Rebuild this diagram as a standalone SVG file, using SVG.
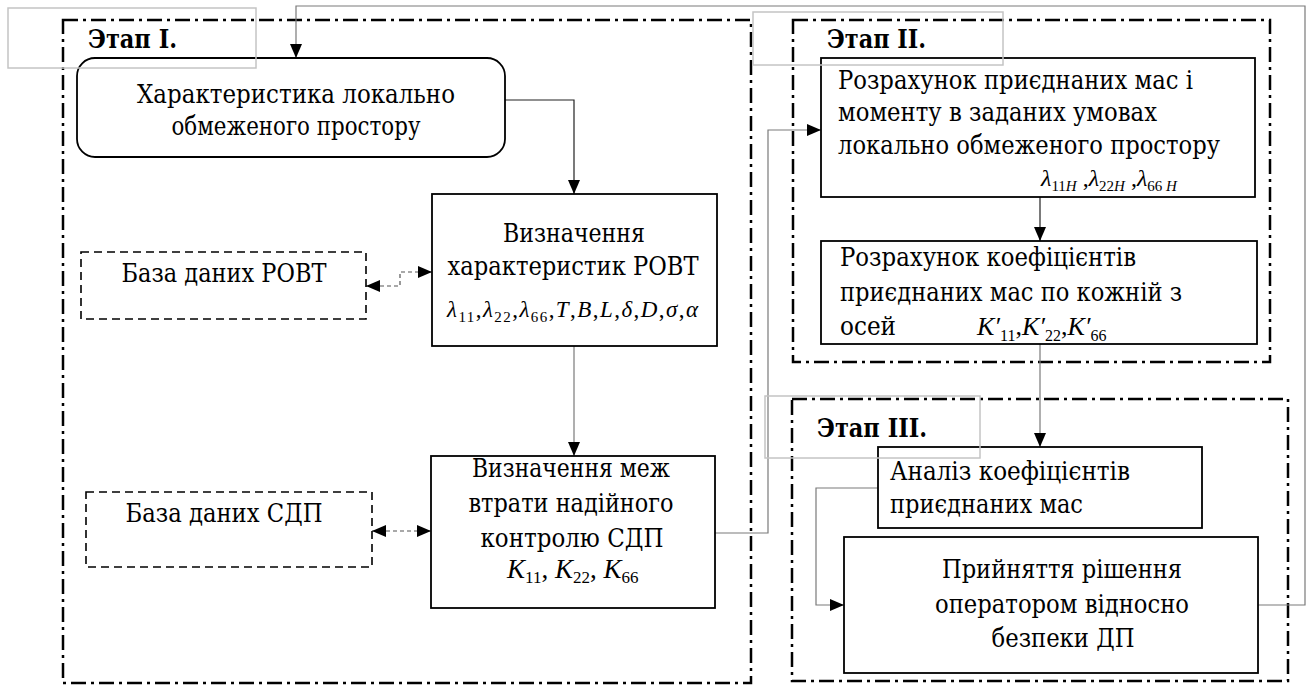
<svg xmlns="http://www.w3.org/2000/svg" width="1311" height="686" viewBox="0 0 1311 686">
  <style>
    .frame { fill: none; stroke: #000; stroke-width: 2.5; stroke-dasharray: 15 5 3 5; }
    .tag { fill: none; stroke: #c4c4c4; stroke-width: 1.5; }
    .box { fill: #fff; stroke: #000; stroke-width: 1.8; }
    .db { fill: #fff; stroke: #000; stroke-width: 1.6; stroke-dasharray: 8 5; }
    text { font-family: 'DejaVu Serif', serif; font-size: 25.5px; fill: #000; }
    .h { font-weight: bold; }
    .mid { text-anchor: middle; }
    .m { font-family: 'Liberation Serif', 'DejaVu Serif', serif; font-size: 23px; font-style: italic; }
    .s { font-size: 15px; font-style: normal; }
    .n { font-style: normal; }
    .c { fill: none; stroke: #222; stroke-width: 1.2; }
    .g { stroke: #7a7a7a; }
    .d { stroke: #555; stroke-dasharray: 4 3; }
  </style>
  <defs>
    <marker id="arr" viewBox="0 0 14 12" refX="14" refY="6" markerWidth="14" markerHeight="12" markerUnits="userSpaceOnUse" orient="auto-start-reverse">
      <path d="M0,0 L14,6 L0,12 z" fill="#000"/>
    </marker>
  </defs>

  <!-- dash-dot stage frames -->
  <g id="stage1"><rect class="frame" x="63" y="20" width="688" height="663"/></g>
  <g id="stage2"><rect class="frame" x="793" y="20" width="477" height="342"/></g>
  <g id="stage3"><rect class="frame" x="792" y="399" width="496" height="282"/></g>

  <!-- connectors -->
  <g id="connectors">
    <polyline class="c" points="505,100 574,100 574,194" marker-end="url(#arr)"/>
    <polyline class="c g" points="574,346 574,456" marker-end="url(#arr)"/>
    <polyline class="c d" points="366,286 400,286 400,272 432,272" marker-start="url(#arr)" marker-end="url(#arr)"/>
    <polyline class="c d" points="372,531 431,531" marker-start="url(#arr)" marker-end="url(#arr)"/>
    <polyline class="c g" points="715,533 768,533 768,130 821,130" marker-end="url(#arr)"/>
    <polyline class="c" points="1040,197 1040,241" marker-end="url(#arr)"/>
    <polyline class="c g" points="1040,344 1040,447" marker-end="url(#arr)"/>
    <polyline class="c g" points="878,488 816,488 816,605 844,605" marker-end="url(#arr)"/>
    <polyline class="c g" points="1258,605 1305,605 1305,6 296,6 296,58" marker-end="url(#arr)"/>
  </g>

  <!-- stage I -->
  <g id="space">
    <rect class="box" x="77" y="58" width="428" height="99" rx="18"/>
    <text class="mid" x="296" y="103" textLength="318" lengthAdjust="spacingAndGlyphs">Характеристика локально</text>
    <text class="mid" x="296" y="135" textLength="249" lengthAdjust="spacingAndGlyphs">обмеженого простору</text>
  </g>
  <g id="rovt">
    <rect class="box" x="432" y="194" width="285" height="152"/>
    <text class="mid" x="574" y="242" textLength="142" lengthAdjust="spacingAndGlyphs">Визначення</text>
    <text class="mid" x="573" y="275" textLength="251" lengthAdjust="spacingAndGlyphs">характеристик РОВТ</text>
    <text class="m" x="447" y="317" textLength="251" lengthAdjust="spacing">λ<tspan class="s" dy="5">11</tspan><tspan class="n" dy="-5">,</tspan>λ<tspan class="s" dy="5">22</tspan><tspan class="n" dy="-5">,</tspan>λ<tspan class="s" dy="5">66</tspan><tspan class="n" dy="-5">,</tspan>T<tspan class="n">,</tspan>B<tspan class="n">,</tspan>L<tspan class="n">,</tspan>δ<tspan class="n">,</tspan>D<tspan class="n">,</tspan>σ<tspan class="n">,</tspan>α</text>
  </g>
  <g id="db-rovt">
    <rect class="db" x="81" y="252" width="285" height="67"/>
    <text class="mid" x="224" y="282" textLength="205" lengthAdjust="spacingAndGlyphs">База даних РОВТ</text>
  </g>
  <g id="db-sdp">
    <rect class="db" x="86" y="492" width="286" height="75"/>
    <text class="mid" x="224" y="522" textLength="197" lengthAdjust="spacingAndGlyphs">База даних СДП</text>
  </g>
  <g id="limits">
    <rect class="box" x="431" y="456" width="284" height="152"/>
    <text class="mid" x="571" y="477" textLength="198" lengthAdjust="spacingAndGlyphs">Визначення меж</text>
    <text class="mid" x="571" y="512" textLength="205" lengthAdjust="spacingAndGlyphs">втрати надійного</text>
    <text class="mid" x="572" y="547" textLength="183" lengthAdjust="spacingAndGlyphs">контролю СДП</text>
    <text class="m" x="507" y="578" style="font-size:27px">K<tspan class="s" dy="5" style="font-size:17px">11</tspan><tspan class="n" dy="-5">, </tspan>K<tspan class="s" dy="5" style="font-size:17px">22</tspan><tspan class="n" dy="-5">, </tspan>K<tspan class="s" dy="5" style="font-size:17px">66</tspan></text>
  </g>

  <!-- stage II -->
  <g id="added-mass">
    <rect class="box" x="821" y="58" width="434" height="139"/>
    <text x="838" y="89" textLength="355" lengthAdjust="spacingAndGlyphs">Розрахунок приєднаних мас і</text>
    <text x="838" y="121" textLength="319" lengthAdjust="spacingAndGlyphs">моменту в заданих умовах</text>
    <text x="838" y="154" textLength="382" lengthAdjust="spacingAndGlyphs">локально обмеженого простору</text>
    <text class="m" x="1041" y="186" style="font-size:24px">λ<tspan class="s" dy="5">11</tspan><tspan class="s" style="font-style:italic">H</tspan><tspan class="n" dy="-5"> ,</tspan>λ<tspan class="s" dy="5">22</tspan><tspan class="s" style="font-style:italic">H</tspan><tspan class="n" dy="-5"> ,</tspan>λ<tspan class="s" dy="5">66</tspan><tspan class="s" style="font-style:italic"> H</tspan></text>
  </g>
  <g id="coefficients">
    <rect class="box" x="821" y="241" width="436" height="103"/>
    <text x="840" y="266" textLength="296" lengthAdjust="spacingAndGlyphs">Розрахунок коефіцієнтів</text>
    <text x="840" y="301" textLength="342" lengthAdjust="spacingAndGlyphs">приєднаних мас по кожній з</text>
    <text x="840" y="335" textLength="56" lengthAdjust="spacingAndGlyphs">осей</text>
    <text class="m" x="977" y="335" style="font-size:26px">K′<tspan class="s" dy="6" style="font-size:16px">11</tspan><tspan class="n" dy="-6">,</tspan>K′<tspan class="s" dy="6" style="font-size:16px">22</tspan><tspan class="n" dy="-6">,</tspan>K′<tspan class="s" dy="6" style="font-size:16px">66</tspan></text>
  </g>

  <!-- stage III -->
  <g id="analysis">
    <rect class="box" x="878" y="447" width="324" height="81"/>
    <text x="890" y="480" textLength="240" lengthAdjust="spacingAndGlyphs">Аналіз коефіцієнтів</text>
    <text x="890" y="513" textLength="193" lengthAdjust="spacingAndGlyphs">приєднаних мас</text>
  </g>
  <g id="decision">
    <rect class="box" x="844" y="537" width="414" height="136"/>
    <text class="mid" x="1062" y="578" textLength="240" lengthAdjust="spacingAndGlyphs">Прийняття рішення</text>
    <text class="mid" x="1062" y="613" textLength="254" lengthAdjust="spacingAndGlyphs">оператором відносно</text>
    <text class="mid" x="1063" y="647" textLength="143" lengthAdjust="spacingAndGlyphs">безпеки ДП</text>
  </g>

  <!-- stage captions -->
  <g id="caption1">
    <rect class="tag" x="8" y="8" width="248" height="60"/>
    <text class="h" x="88" y="48" textLength="89" lengthAdjust="spacingAndGlyphs">Этап I.</text>
  </g>
  <g id="caption2">
    <rect class="tag" x="753" y="12" width="250" height="53"/>
    <text class="h" x="827" y="48" textLength="99" lengthAdjust="spacingAndGlyphs">Этап II.</text>
  </g>
  <g id="caption3">
    <rect class="tag" x="765" y="396" width="215" height="62"/>
    <text class="h" x="817" y="437" textLength="110" lengthAdjust="spacingAndGlyphs">Этап III.</text>
  </g>
</svg>
